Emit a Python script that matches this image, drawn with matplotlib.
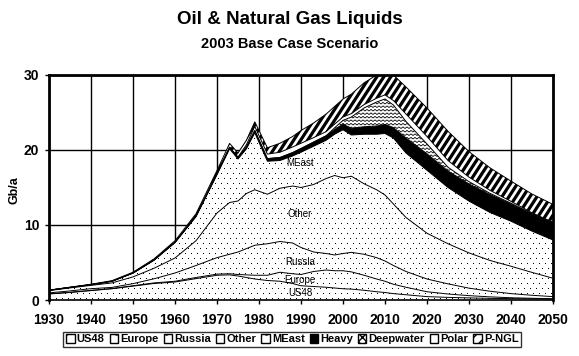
import matplotlib.pyplot as plt
import numpy as np
from matplotlib.patches import Patch

plt.rcParams['font.family'] = ['Liberation Sans', 'DejaVu Sans']

# Gb/a per region
years = [1930, 1935, 1940, 1945, 1950, 1955, 1960, 1965, 1970, 1973, 1975, 1977, 1979,
         1982, 1985, 1988, 1990, 1993, 1996, 1998, 2000, 2002, 2005, 2008, 2010, 2012,
         2015, 2020, 2025, 2030, 2035, 2040, 2045, 2050]
us48 = [0.8, 1.0, 1.25, 1.5, 1.85, 2.2, 2.4, 2.85, 3.3, 3.35, 3.2, 3.0, 2.8, 2.6, 2.5, 2.2, 1.9,
        1.8, 1.7, 1.6, 1.5, 1.45, 1.3, 1.1, 1.0, 0.85, 0.7, 0.45, 0.35, 0.28, 0.22, 0.18, 0.15, 0.12]
europe = [0.03, 0.03, 0.04, 0.03, 0.05, 0.08, 0.1, 0.15, 0.15, 0.15, 0.2, 0.35, 0.5, 0.7, 1.2, 1.3,
          1.5, 2.0, 2.3, 2.3, 2.4, 2.3, 2.0, 1.7, 1.5, 1.25, 1.0, 0.65, 0.45, 0.3, 0.2, 0.12, 0.08, 0.05]
russia = [0.12, 0.18, 0.22, 0.15, 0.28, 0.55, 1.1, 1.6, 2.2, 2.6, 3.0, 3.5, 4.0, 4.2, 4.1, 4.1, 3.6,
          2.6, 2.2, 2.1, 2.3, 2.6, 2.8, 2.85, 2.7, 2.5, 2.1, 1.7, 1.35, 1.0, 0.75, 0.55, 0.4, 0.28]
other = [0.3, 0.4, 0.44, 0.6, 0.9, 1.4, 2.0, 3.3, 5.95, 6.9, 6.8, 7.35, 7.4, 6.6, 7.1, 7.6, 8.0,
         9.0, 10.0, 10.6, 10.1, 10.15, 9.4, 9.05, 8.8, 8.2, 7.2, 6.1, 5.35, 4.7, 4.1, 3.65, 3.05, 2.45]
meast = [0.05, 0.07, 0.1, 0.22, 0.5, 1.07, 2.05, 3.2, 5.1, 7.15, 5.6, 5.95, 7.6, 4.4, 3.7, 4.0, 4.7,
         5.1, 5.1, 5.5, 6.4, 5.5, 6.6, 7.4, 8.2, 8.8, 8.6, 8.4, 7.5, 6.9, 6.4, 6.0, 5.5, 5.1]
heavy = [0, 0, 0, 0, 0.02, 0.03, 0.05, 0.1, 0.15, 0.2, 0.2, 0.25, 0.3, 0.35, 0.4, 0.45, 0.5,
         0.55, 0.6, 0.65, 0.75, 0.9, 1.0, 1.1, 1.2, 1.4, 2.0, 2.2, 2.2, 2.3, 2.4, 2.3, 2.3, 2.3]
deep = [0, 0, 0, 0, 0, 0, 0, 0, 0, 0, 0, 0, 0, 0, 0, 0, 0, 0, 0,
        0.2, 0.5, 1.5, 2.5, 3.2, 3.4, 3.0, 2.2, 1.3, 0.5, 0.3, 0.15, 0.1, 0.05, 0.0]
polar = [0, 0, 0, 0, 0, 0, 0, 0, 0.02, 0.03, 0.05, 0.3, 0.55, 0.6, 0.7, 0.75, 0.7,
         0.6, 0.55, 0.5, 0.45, 0.45, 0.45, 0.5, 0.55, 0.6, 1.0, 1.0, 0.9, 0.6, 0.4, 0.25, 0.1, 0.05]
pngl = [0.02, 0.03, 0.05, 0.08, 0.1, 0.15, 0.2, 0.3, 0.4, 0.5, 0.55, 0.6, 0.6, 0.85, 1.2, 1.4, 1.7,
        1.95, 2.35, 2.35, 2.4, 2.6, 2.9, 3.1, 3.2, 3.4, 3.6, 3.8, 3.9, 3.4, 3.0, 2.7, 2.5, 2.4]

names = ['US48', 'Europe', 'Russia', 'Other', 'MEast', 'Heavy', 'Deepwater', 'Polar', 'P-NGL']
series = [us48, europe, russia, other, meast, heavy, deep, polar, pngl]
xt = np.arange(1930, 2051, 10)

x = np.array(years)
cum = np.cumsum(np.array(series), axis=0)
base = np.vstack([np.zeros(len(x)), cum[:-1]])

fig = plt.figure(figsize=(5.79, 3.56), dpi=100)
ax = fig.add_axes([49 / 579, 1 - 300 / 356, 504 / 579, 225 / 356])

polys = []
for i in range(len(series)):
    fc = 'black' if names[i] == 'Heavy' else 'white'
    p = ax.fill_between(x, base[i], cum[i], facecolor=fc, edgecolor='none', zorder=2)
    polys.append(p)
for i in range(len(series)):
    ax.plot(x, cum[i], color='black', lw=0.7, zorder=5)

# dotted texture over the five regional areas
dot_area = ax.fill_between(x, 0, cum[4], facecolor='none', edgecolor='none')
gx, gy = np.meshgrid(np.arange(1, 504, 6.0), np.arange(1, 225, 5.0))
gx[1::2] += 3
dots, = ax.plot(gx.ravel() / 504, gy.ravel() / 225, ls='none', marker=',', color='black',
                transform=ax.transAxes, zorder=3)
dots.set_clip_path(dot_area.get_paths()[0], ax.transData)

# zigzag texture for deepwater
zz = np.arange(0, 504, 2.0)
for row in np.arange(0, 225, 3.5):
    zy = row + np.where(np.arange(len(zz)) % 2 == 0, 0, 1.6)
    ln, = ax.plot(zz / 504, zy / 225, color='black', lw=0.6, transform=ax.transAxes, zorder=3)
    ln.set_clip_path(polys[6].get_paths()[0], ax.transData)

# bold diagonal stripes for P-NGL
dx = 225 / np.tan(np.radians(57))
for u in np.arange(-dx, 504, 7.0):
    ln, = ax.plot([u / 504, (u + dx) / 504], [0, 1], color='black', lw=2.3,
                  solid_capstyle='butt', transform=ax.transAxes, zorder=3)
    ln.set_clip_path(polys[8].get_paths()[0], ax.transData)

lab_kw = dict(fontsize=7, ha='center', va='center', zorder=6)
ax.text(1989.8, 18.3, 'MEast', **lab_kw)
ax.text(1989.8, 11.5, 'Other', **lab_kw)
ax.text(1989.8, 5.1, 'Russia', **lab_kw)
ax.text(1989.8, 2.7, 'Europe', **lab_kw)
ax.text(1989.8, 0.93, 'US48', **lab_kw)

ax.set_xlim(1930, 2050)
ax.set_ylim(0, 30)
ax.set_xticks(xt)
ax.set_yticks([0, 10, 20, 30])
ax.grid(True, color='black', lw=1)
ax.set_axisbelow(True)
for s in ax.spines.values():
    s.set_linewidth(2)
ax.spines['bottom'].set_linewidth(1.2)
ax.tick_params(axis='x', direction='out', length=3, width=1, pad=6)
ax.tick_params(axis='y', direction='out', length=3, width=1, pad=4)
for t in ax.get_xticklabels() + ax.get_yticklabels():
    t.set_fontweight('bold')
    t.set_fontsize(10)
fig.text(14 / 579, 1 - 190 / 356, 'Gb/a', rotation=90, ha='center', va='center',
         fontweight='bold', fontsize=9)

fig.text(0.5, 1 - 20 / 356, 'Oil & Natural Gas Liquids', ha='center', va='center',
         fontsize=13.5, fontweight='bold')
fig.text(0.5, 1 - 44 / 356, '2003 Base Case Scenario', ha='center', va='center',
         fontsize=10.5, fontweight='bold')

handles = [Patch(facecolor='white', edgecolor='black', hatch='.') for _ in range(5)]
handles.append(Patch(facecolor='black', edgecolor='black'))
handles.append(Patch(facecolor='white', edgecolor='black', hatch='xxxx'))
handles.append(Patch(facecolor='white', edgecolor='black'))
handles.append(Patch(facecolor='white', edgecolor='black', hatch='///'))
leg = fig.legend(handles, names, loc='lower center', bbox_to_anchor=(0.505, 0.025), ncol=9,
                 fontsize=8, frameon=True, fancybox=False, handlelength=0.75, handleheight=0.75,
                 handletextpad=0.2, columnspacing=0.45, borderpad=0.25, borderaxespad=0)
leg.get_frame().set_edgecolor('black')
leg.get_frame().set_linewidth(1)
for t in leg.get_texts():
    t.set_fontweight('bold')

fig.savefig('out.png', dpi=100)
